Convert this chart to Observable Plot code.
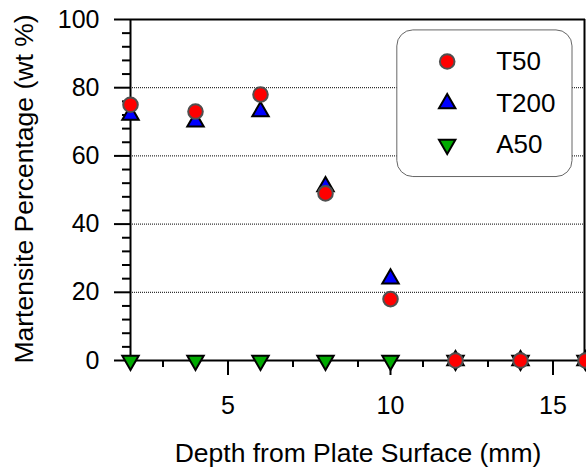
<!DOCTYPE html>
<html><head><meta charset="utf-8">
<script src="https://cdn.jsdelivr.net/npm/d3@7"></script>
<script src="https://cdn.jsdelivr.net/npm/@observablehq/plot@0.6"></script>
<style>body{margin:0;background:#fff}</style>
</head><body><div id="chart"></div>
<script>
const depth = [2, 4, 6, 8, 10, 12, 14, 16];
const t50 = [75, 73, 78, 49, 18, 0, 0, 0];
const t200 = [72, 70, 73, 51, 24, 0, 0, 0];
const a50 = [0, 0, 0, 0, 0, 0, 0, 0];
const seriesNames = ["T50", "T200", "A50"];
const seriesColors = ["#ff0000", "#0000ff", "#00aa00"];
const xMajorTicks = [5, 10, 15];
const yMajorTicks = [0, 20, 40, 60, 80, 100];
const gridValues = [20, 40, 60, 80];
const xTitle = "Depth from Plate Surface (mm)";
const yTitle = "Martensite Percentage (wt %)";

const xMinorTicks = d3.range(2, 17, 1).filter(v => !xMajorTicks.includes(v));
const yMinorTicks = d3.range(0, 101, 4).filter(v => !yMajorTicks.includes(v));

const triDown = {
  draw(ctx, size) {
    const y = -Math.sqrt(size / (Math.sqrt(3) * 3));
    ctx.moveTo(0, -y * 2);
    ctx.lineTo(-Math.sqrt(3) * y, y);
    ctx.lineTo(Math.sqrt(3) * y, y);
    ctx.closePath();
  }
};

const rows = (vals) => depth.map((d, i) => ({depth: d, value: vals[i]}));
const styles = {
  T50: {symbol: "circle", r: 7.3, stroke: "#505050", strokeWidth: 2},
  T200: {symbol: "triangle", r: 6.1, stroke: "#000000", strokeWidth: 2},
  A50: {symbol: triDown, r: 6.1, stroke: "#000000", strokeWidth: 2}
};
const seriesData = {T50: rows(t50), T200: rows(t200), A50: rows(a50)};
const drawOrder = ["T200", "A50", "T50"];

const font = "Arial, 'Liberation Sans', sans-serif";
const legendRowsDy = [61, 103, 144];

const marks = [
  Plot.ruleY(gridValues, {stroke: "#000", strokeWidth: 1, strokeDasharray: "1,1"}),
  Plot.axisY({ticks: yMajorTicks, tickSize: 16, tickPadding: 15, fontSize: 25, strokeWidth: 2, label: null}),
  Plot.axisY({ticks: yMinorTicks, tickSize: 8, text: null, strokeWidth: 2, label: null}),
  Plot.axisX({ticks: xMajorTicks, tickSize: 15, tickPadding: 21, fontSize: 25, strokeWidth: 2, label: null}),
  Plot.axisX({ticks: xMinorTicks, tickSize: 7, text: null, strokeWidth: 2, label: null}),
  Plot.ruleX([2], {strokeWidth: 2}),
  Plot.ruleY([0], {strokeWidth: 2}),
  Plot.ruleY([100], {strokeWidth: 2}),
  Plot.ruleX([16], {strokeWidth: 2, dx: -1}),
  ...drawOrder.map(name => Plot.dot(seriesData[name], {
    x: "depth", y: "value", symbol: styles[name].symbol, r: styles[name].r,
    fill: seriesColors[seriesNames.indexOf(name)], stroke: styles[name].stroke,
    strokeWidth: styles[name].strokeWidth
  })),
  // legend box
  Plot.rect([{}], {x1: 10.21, x2: 15.6, y1: 53.8, y2: 96.8, rx: 16, fill: "#fff", stroke: "#666", strokeWidth: 1}),
  ...seriesNames.map((name, i) => Plot.dot([name], {
    frameAnchor: "top-left", dx: 446.7 - 130, dy: legendRowsDy[i] - 19,
    symbol: styles[name].symbol, r: styles[name].r, fill: seriesColors[i],
    stroke: styles[name].stroke, strokeWidth: styles[name].strokeWidth
  })),
  ...seriesNames.map((name, i) => Plot.text([name], {
    frameAnchor: "top-left", dx: 495.7 - 130, dy: legendRowsDy[i] - 19,
    text: d => d, textAnchor: "start", lineAnchor: "middle", fontSize: 26, fill: "#000"
  })),
  Plot.text([xTitle], {frameAnchor: "bottom", dy: 93, text: d => d, fontSize: 26.5, textAnchor: "middle", lineAnchor: "middle", fill: "#000"}),
  Plot.text([yTitle], {frameAnchor: "left", dx: -106, dy: -1, rotate: -90, text: d => d, fontSize: 26.5, textAnchor: "middle", lineAnchor: "middle", fill: "#000"})
];

const chart = Plot.plot({
  width: 586,
  height: 471,
  marginLeft: 130,
  marginRight: 1,
  marginTop: 19,
  marginBottom: 111,
  x: {domain: [2, 16]},
  y: {domain: [0, 100]},
  style: {fontFamily: font, background: "#fff", color: "#000", overflow: "hidden"},
  marks
});
document.getElementById("chart").appendChild(chart);
</script>
</body></html>
